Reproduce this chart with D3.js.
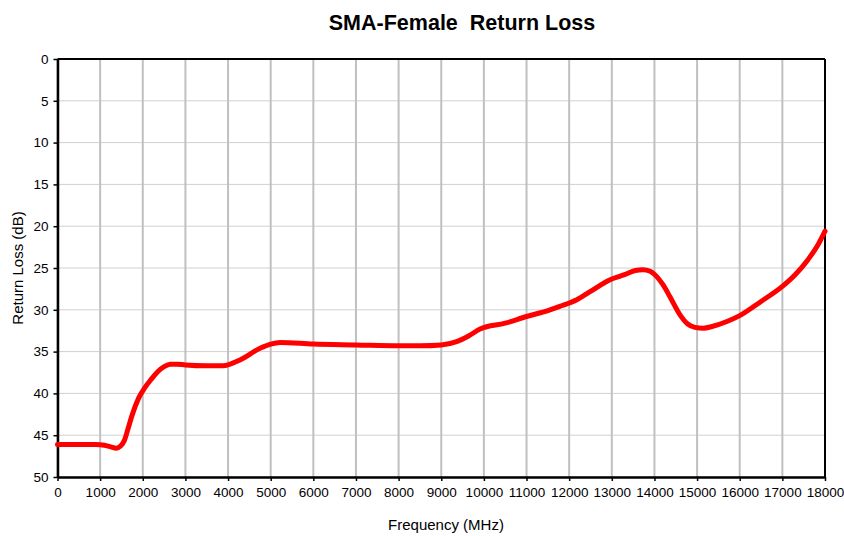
<!DOCTYPE html>
<meta charset="utf-8">
<style>
body { margin: 0; font-family: Arial, "Liberation Sans", sans-serif; background: #fff; }
.tick text { font-size: 13.5px; fill: #000; }
.axis path, .axis line { stroke: #000; }
</style>
<body>
<svg id="chart" width="844" height="536"></svg>
<script src="https://d3js.org/d3.v7.min.js"></script>
<script>

// frequency (MHz) and return loss (dB)
var freq = [0, 500, 900, 1100, 1250, 1380, 1480, 1570, 1650, 1750, 1900, 2050, 2200, 2350, 2500, 2640, 2800, 3000, 3500, 3880, 4280, 4750, 5000, 5220, 6000, 7000, 8000, 8500, 9000, 9360, 9650, 9910, 10500, 11000, 11500, 11780, 12180, 12500, 12960, 13300, 13550, 13730, 13900, 14050, 14200, 14360, 14600, 14780, 14950, 15150, 15350, 15700, 16000, 16500, 17000, 17300, 17600, 17850, 18000];
var loss = [46.1, 46.1, 46.1, 46.2, 46.4, 46.55, 46.3, 45.6, 44.3, 42.6, 40.6, 39.3, 38.3, 37.4, 36.8, 36.5, 36.5, 36.6, 36.7, 36.7, 36.0, 34.6, 34.1, 33.9, 34.1, 34.2, 34.3, 34.3, 34.2, 33.8, 33.1, 32.3, 31.6, 30.8, 30.1, 29.6, 28.8, 27.8, 26.4, 25.8, 25.3, 25.2, 25.4, 26.0, 27.0, 28.4, 30.6, 31.7, 32.1, 32.2, 32.0, 31.4, 30.7, 29.0, 27.2, 25.8, 24.0, 22.1, 20.6];

var xTicks = d3.range(0, 18001, 1000);
var yTicks = d3.range(0, 51, 5);

var svg = d3.select("#chart"),
    margin = {top: 59, right: 19, bottom: 59, left: 57.5},
    width = 844 - margin.left - margin.right,
    height = 536 - margin.top - margin.bottom;

var x = d3.scaleLinear().domain([0, 18000]).range([0, width]);
var y = d3.scaleLinear().domain([0, 50]).range([0, height]);

var g = svg.append("g")
    .attr("transform", "translate(" + margin.left + "," + margin.top + ")");

// horizontal gridlines (light)
g.selectAll(".hgrid")
  .data(yTicks)
  .enter().append("line")
    .attr("x1", 0).attr("x2", width)
    .attr("y1", function(d) { return y(d); })
    .attr("y2", function(d) { return y(d); })
    .attr("stroke", "#d0d0d0")
    .attr("stroke-width", 1);

// vertical gridlines (darker, thicker)
g.selectAll(".vgrid")
  .data(xTicks)
  .enter().append("line")
    .attr("x1", function(d) { return x(d); })
    .attr("x2", function(d) { return x(d); })
    .attr("y1", 0).attr("y2", height)
    .attr("stroke", "#c0c0c0")
    .attr("stroke-width", 2);

// frame top & right
g.append("line").attr("x1", 0).attr("x2", width).attr("y1", 0).attr("y2", 0)
  .attr("stroke", "#000").attr("stroke-width", 2);
g.append("line").attr("x1", width).attr("x2", width).attr("y1", 0).attr("y2", height)
  .attr("stroke", "#000").attr("stroke-width", 2);

var xAxis = g.append("g")
    .attr("class", "axis")
    .attr("transform", "translate(0," + height + ")")
    .call(d3.axisBottom(x).tickValues(xTicks).tickFormat(d3.format("d"))
      .tickSize(4).tickPadding(6).tickSizeOuter(0));
var yAxis = g.append("g")
    .attr("class", "axis")
    .call(d3.axisLeft(y).tickValues(yTicks).tickSize(4).tickPadding(5).tickSizeOuter(0));
xAxis.select(".domain").attr("stroke-width", 2.5);
yAxis.select(".domain").attr("stroke-width", 2.5);
xAxis.selectAll(".tick line").attr("stroke-width", 1.5);
yAxis.selectAll(".tick line").attr("stroke-width", 1.5);

var line = d3.line()
    .x(function(d, i) { return x(freq[i]); })
    .y(function(d) { return y(d); })
    .curve(d3.curveMonotoneX);

g.append("path")
    .datum(loss)
    .attr("fill", "none")
    .attr("stroke", "#ff0000")
    .attr("stroke-width", 5)
    .attr("stroke-linejoin", "round")
    .attr("stroke-linecap", "round")
    .attr("d", line);

svg.append("text")
    .attr("x", 462).attr("y", 30)
    .attr("text-anchor", "middle")
    .style("font-size", "21.5px").style("font-weight", "bold")
    .style("white-space", "pre")
    .text("SMA-Female  Return Loss");

svg.append("text")
    .attr("x", 446).attr("y", 530)
    .attr("text-anchor", "middle")
    .style("font-size", "15px")
    .text("Frequency (MHz)");

svg.append("text")
    .attr("transform", "translate(23," + (margin.top + height / 2) + ") rotate(-90)")
    .attr("text-anchor", "middle")
    .style("font-size", "15px")
    .text("Return Loss (dB)");
</script>
</body>
